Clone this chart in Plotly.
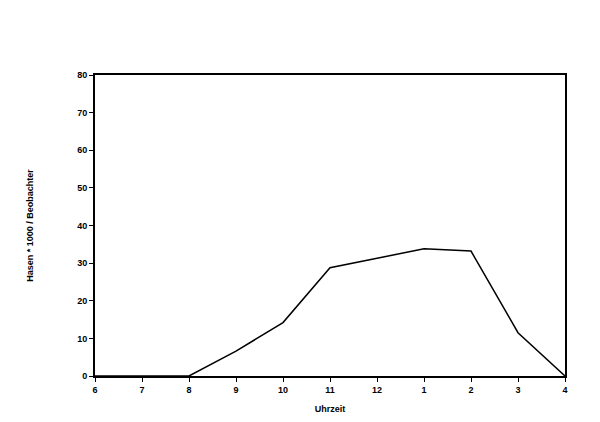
import plotly.graph_objects as go

hours = ["6", "7", "8", "9", "10", "11", "12", "1", "2", "3", "4"]
values = [0, 0, 0, 6.6, 14.2, 28.8, 31.3, 33.8, 33.2, 11.5, 0]
y_ticks = [0, 10, 20, 30, 40, 50, 60, 70, 80]
x_title = "Uhrzeit"
y_title = "Hasen * 1000 / Beobachter"

xpos = list(range(len(hours)))

fig = go.Figure()
fig.add_trace(go.Scatter(x=xpos, y=values, mode="lines",
                         line=dict(color="black", width=1.5), showlegend=False))

font = dict(family="Liberation Sans, Arial", size=9, color="black", weight="bold")
fig.update_layout(
    width=600, height=422,
    margin=dict(l=87, r=43, t=67, b=54),
    paper_bgcolor="white", plot_bgcolor="white",
    font=font,
)
fig.update_xaxes(range=[0, len(hours) - 1], tickvals=xpos, ticktext=hours,
                 showgrid=False, zeroline=False, showline=True, linecolor="black",
                 linewidth=2, mirror=True, ticks="outside", ticklen=4, tickcolor="black",
                 tickfont=font, automargin=False,
                 title=dict(text=x_title, font=font, standoff=12))
fig.update_yaxes(range=[0, 80], tickvals=y_ticks,
                 showgrid=False, zeroline=False, showline=True, linecolor="black",
                 linewidth=2, mirror=True, ticks="outside", ticklen=4, tickcolor="black",
                 tickfont=font, automargin=False,
                 title=dict(text=y_title, font=font, standoff=42))
fig.write_html("out.html")
